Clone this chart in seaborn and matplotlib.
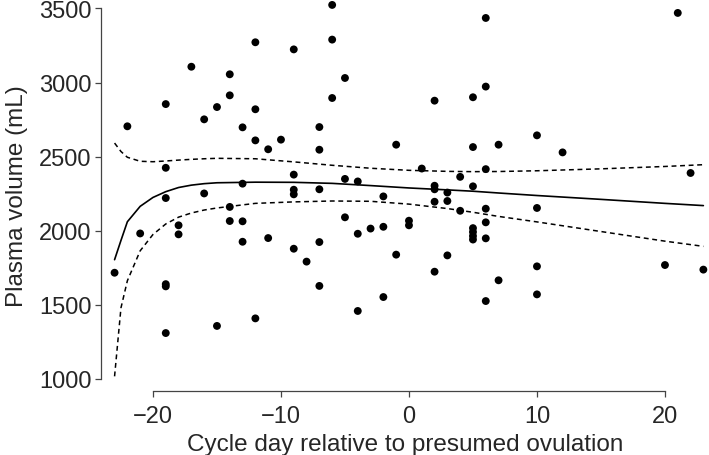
import matplotlib
matplotlib.use("Agg")
import matplotlib.pyplot as plt
import seaborn as sns
import pandas as pd

# observations: cycle day vs plasma volume
day = [-23, -22, -21,
       -19, -19, -19, -19, -19, -19,
       -18, -18, -17, -16, -16, -15, -15,
       -14, -14, -14, -14,
       -13, -13, -13, -13,
       -12, -12, -12, -12,
       -11, -11, -10,
       -9, -9, -9, -9, -9,
       -8,
       -7, -7, -7, -7, -7,
       -6, -6, -6,
       -5, -5, -5,
       -4, -4, -4,
       -3,
       -2, -2, -2,
       -1, -1,
       0, 0, 1,
       2, 2, 2, 2, 2,
       3, 3, 3,
       4, 4,
       5, 5, 5, 5, 5, 5, 5,
       6, 6, 6, 6, 6, 6, 6,
       7, 7,
       10, 10, 10, 10,
       12, 20, 21, 22, 23]
volume = [1717, 2705, 1982,
          2855, 2425, 2221, 1640, 1625, 1310,
          2037, 1976, 3107, 2752, 2252, 2835, 1358,
          3056, 2914, 2161, 2066,
          2698, 2318, 2064, 1926,
          3272, 2820, 2610, 1409,
          2550, 1951, 2615,
          3224, 2379, 2277, 2246, 1879,
          1792,
          2700, 2547, 2280, 1924, 1628,
          3524, 3290, 2896,
          3031, 2350, 2091,
          2333, 1980, 1459,
          2015,
          2232, 2027, 1553,
          2581, 1839,
          2068, 2037, 2420,
          2878, 2304, 2280, 2196, 1724,
          2258, 2201, 1834,
          2364, 2135,
          2901, 2565, 2300, 2018, 1992, 1965, 1941,
          3436, 2973, 2416, 2149, 2057, 1949, 1526,
          2581, 1666,
          2644, 2154, 1760, 1571,
          2529, 1769, 3470, 2390, 1738]

# fitted curve and confidence band
fit_day = [-23, -22.5, -22, -21, -20, -19, -18, -17, -16, -15, -12, -9, -6, -3, 0, 3, 5, 7, 10, 15, 20, 23]
fit = [1805, 1935, 2061, 2165, 2225, 2264, 2292, 2308, 2318, 2324, 2328, 2327, 2320, 2305, 2289, 2276, 2267, 2255, 2238, 2212, 2185, 2170]
upper = [2592, 2535, 2496, 2469, 2466, 2471, 2477, 2482, 2486, 2489, 2486, 2465, 2442, 2422, 2408, 2401, 2399, 2400, 2405, 2418, 2434, 2446]
lower = [1018, 1480, 1663, 1865, 1975, 2046, 2092, 2120, 2140, 2154, 2185, 2195, 2201, 2199, 2180, 2150, 2125, 2097, 2060, 1995, 1930, 1895]

obs = pd.DataFrame({"day": day, "volume": volume})
curve = pd.DataFrame({"day": fit_day, "fit": fit, "upper": upper, "lower": lower})

sns.set_style("ticks")
plt.rcParams["font.family"] = ["Liberation Sans", "DejaVu Sans"]

fig = plt.figure(figsize=(7.09, 4.56), dpi=100)
ax = fig.add_axes([101 / 709, 64.3 / 456, 608 / 709, 391.7 / 456])

sns.scatterplot(data=obs, x="day", y="volume", color="black", s=32,
                edgecolor="none", ax=ax, clip_on=False, zorder=3)
sns.lineplot(data=curve, x="day", y="fit", color="black", lw=1.2,
             estimator=None, sort=False, ax=ax)
for col in ["upper", "lower"]:
    sns.lineplot(data=curve, x="day", y=col, color="black", lw=1.1,
                 estimator=None, sort=False, ax=ax, dashes=False,
                 linestyle=(0, (3.2, 2.4)))

ax.set_xlim(-24.06, 23.44)
ax.set_ylim(921, 3564)
ax.set_xticks([-20, -10, 0, 10, 20])
ax.set_yticks([1000, 1500, 2000, 2500, 3000, 3500])
ax.spines["left"].set_bounds(1000, 3500)
ax.spines["bottom"].set_bounds(-20, 20)
sns.despine(ax=ax)
for s in ["left", "bottom"]:
    ax.spines[s].set_linewidth(0.9)
    ax.spines[s].set_color("#444444")
ax.tick_params(axis="both", labelsize=17, length=4.5, width=0.9,
               color="#444444", pad=2.5)
ax.tick_params(axis="x", pad=6)
ax.set_xlabel("Cycle day relative to presumed ovulation", fontsize=17.5, labelpad=4)
ax.set_ylabel("Plasma volume (mL)", fontsize=17.5, labelpad=8)

fig.savefig("out.png", dpi=100)
